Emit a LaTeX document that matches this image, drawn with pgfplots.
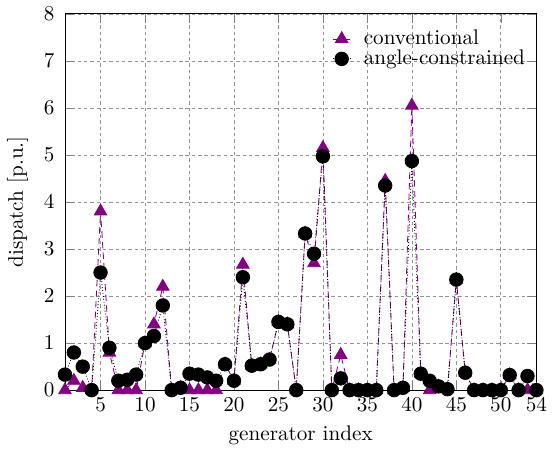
\documentclass[border=0pt]{standalone}
\usepackage{pgfplots}
\pgfplotsset{compat=1.18}
\definecolor{convcol}{RGB}{128,0,128}

\begin{document}
\begin{tikzpicture}
\begin{axis}[
  scale only axis,
  width=223pt, height=178pt,
  xmin=1, xmax=54, ymin=0, ymax=8,
  xtick={5,10,...,50,54},
  ytick={0,1,...,8},
  yticklabel style={xshift=-1.5pt},
  grid=major,
  grid style={dash pattern=on 1.6pt off 1.4pt, gray!85, line width=0.3pt},
  xlabel={generator index},
  ylabel={dispatch [p.u.]},
  ylabel style={yshift=0.5pt},
  clip=false,
  legend cell align=left,
  legend style={draw=none, fill=none, at={(0.99,0.975)}, anchor=north east,
    row sep=-3pt, inner sep=1pt,
    /tikz/every odd column/.append style={column sep=4pt}},
  legend image code/.code={%
    \draw[mark repeat=2, mark phase=2]
      plot coordinates {(0cm,0cm) (0.15cm,0cm) (0.3cm,0cm)};},
]
% conventional dispatch
\addplot[convcol, densely dashed, mark=triangle*, mark size=3.4pt,
  mark options={solid}] coordinates {
(1,0.0) (2,0.2) (3,0.05) (4,0.0) (5,3.8) (6,0.8) (7,0.0) (8,0.0) (9,0.0) (10,1.0)
(11,1.4) (12,2.2) (13,0.0) (14,0.05) (15,0.0) (16,0.0) (17,0.0) (18,0.0) (19,0.55) (20,0.2)
(21,2.67) (22,0.52) (23,0.55) (24,0.65) (25,1.45) (26,1.4) (27,0.0) (28,3.33) (29,2.7) (30,5.15)
(31,0.0) (32,0.75) (33,0.0) (34,0.0) (35,0.0) (36,0.0) (37,4.45) (38,0.0) (39,0.05) (40,6.05)
(41,0.35) (42,0.0) (43,0.08) (44,0.02) (45,2.35) (46,0.37) (47,0.0) (48,0.0) (49,0.0) (50,0.0)
(51,0.32) (52,0.0) (53,0.0) (54,0.0)
};
\addlegendentry{conventional}
% angle-constrained dispatch
\addplot[black, densely dotted, mark=*, mark size=3.2pt,
  mark options={solid}] coordinates {
(1,0.33) (2,0.8) (3,0.5) (4,0.0) (5,2.5) (6,0.9) (7,0.2) (8,0.22) (9,0.33) (10,1.0)
(11,1.15) (12,1.8) (13,0.0) (14,0.05) (15,0.35) (16,0.33) (17,0.27) (18,0.2) (19,0.55) (20,0.2)
(21,2.4) (22,0.52) (23,0.55) (24,0.65) (25,1.45) (26,1.4) (27,0.0) (28,3.33) (29,2.9) (30,4.97)
(31,0.0) (32,0.25) (33,0.0) (34,0.0) (35,0.0) (36,0.0) (37,4.35) (38,0.0) (39,0.05) (40,4.87)
(41,0.35) (42,0.2) (43,0.08) (44,0.02) (45,2.35) (46,0.37) (47,0.0) (48,0.0) (49,0.0) (50,0.0)
(51,0.32) (52,0.0) (53,0.3) (54,0.0)
};
\addlegendentry{angle-constrained}
\end{axis}
\end{tikzpicture}
\end{document}
